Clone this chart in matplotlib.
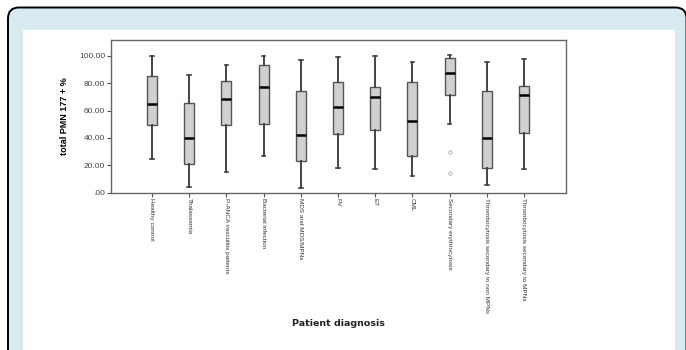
import matplotlib
matplotlib.use("Agg")
import matplotlib.pyplot as plt
from matplotlib.patches import FancyBboxPatch, Rectangle

categories = ["Healthy control", "Thalassemia", "P-ANCA vasculitis patients",
              "Bacterial infection", "MDS and MDS/MPNs", "PV", "ET", "CML",
              "Secondary erythrocytosis", "Thrombocytosis secondary to non MPNs",
              "Thrombocytosis secondary to MPNs"]
whisker_low = [24.5, 4.0, 15.2, 26.9, 3.3, 17.7, 17.0, 12.0, 50.0, 5.3, 17.0]
q1 = [49.6, 21.0, 49.3, 50.3, 22.8, 42.5, 45.9, 26.5, 71.0, 18.1, 43.7]
medians = [64.5, 40.3, 68.6, 77.3, 42.0, 62.3, 69.6, 52.0, 87.4, 39.8, 71.3]
q3 = [85.4, 65.2, 81.7, 93.2, 74.4, 81.0, 76.9, 81.0, 98.0, 74.4, 77.6]
whisker_high = [99.8, 85.9, 93.4, 99.5, 96.9, 98.8, 99.5, 95.6, 100.3, 95.4, 97.4]
outliers = [[], [], [], [], [], [], [], [], [29.6, 14.5], [], []]
yticks = [0, 20, 40, 60, 80, 100]
ytick_labels = [".00", "20.00", "40.00", "60.00", "80.00", "100.00"]

W, H = 686, 350
fig = plt.figure(figsize=(W / 100, H / 100), dpi=100)
fig.patch.set_facecolor("white")

def fx(x):
    return x / W

def fy(y):
    return 1 - y / H

# outer light-blue rounded panel
panel = FancyBboxPatch((fx(8), fy(380)), fx(686.5) - fx(8), fy(7.5) - fy(380),
                       boxstyle="round,pad=0,rounding_size=0.016",
                       transform=fig.transFigure, facecolor="#d8ebf0",
                       edgecolor="black", linewidth=1.4, zorder=-2,
                       mutation_aspect=W / H)
fig.patches.append(panel)
inner = Rectangle((fx(23), fy(352)), fx(675) - fx(23), fy(30) - fy(352),
                  transform=fig.transFigure, facecolor="white",
                  edgecolor="none", zorder=-1)
fig.patches.append(inner)

ax = fig.add_axes([fx(110.7), fy(192.7), fx(566) - fx(110.7), fy(40) - fy(192.7)])
ax.set_facecolor("white")

stats = []
for i in range(len(categories)):
    stats.append(dict(med=medians[i], q1=q1[i], q3=q3[i],
                      whislo=whisker_low[i], whishi=whisker_high[i],
                      fliers=outliers[i], label=categories[i]))

positions = list(range(1, len(categories) + 1))
ax.bxp(stats, positions=positions, widths=0.27, patch_artist=True,
       capwidths=0.1,
       boxprops=dict(facecolor="#d0d0d0", edgecolor="#555555", linewidth=1.0),
       medianprops=dict(color="black", linewidth=1.8),
       whiskerprops=dict(color="#444444", linewidth=1.4),
       capprops=dict(color="#444444", linewidth=1.2),
       flierprops=dict(marker="o", markersize=2.5, markerfacecolor="none",
                       markeredgecolor="#aaaaaa", markeredgewidth=0.6))

ax.set_xlim(-0.11, 12.13)
ax.set_ylim(0, 111.5)
ax.set_yticks(yticks)
ax.set_yticklabels(ytick_labels, fontsize=6, color="#444444",
                   family=["Liberation Sans"])
ax.set_xticks(positions)
ax.set_xticklabels(categories, rotation=270, fontsize=4.6, color="#333333",
                   family=["Liberation Sans Narrow", "Liberation Sans"])
ax.tick_params(axis="both", direction="out", length=3, width=0.8,
               color="#555555", pad=1)
for s in ax.spines.values():
    s.set_color("#666666")
    s.set_linewidth(1.0)

ax.set_ylabel("total PMN 177 + %", fontsize=6.5, fontweight="bold",
              family=["Liberation Sans Narrow", "Liberation Sans"], labelpad=7)
fig.text(fx(338), fy(323), "Patient diagnosis", fontsize=6.8,
         fontweight="bold", family=["DejaVu Sans"], ha="center", va="center",
         color="#222222")

fig.savefig("out.png", dpi=100)
